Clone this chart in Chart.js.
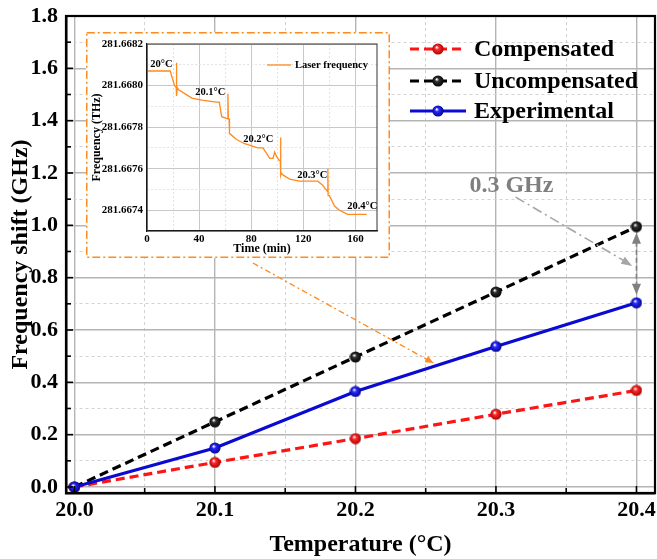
<!DOCTYPE html>
<html>
<head>
<meta charset="utf-8">
<script src="https://cdn.jsdelivr.net/npm/chart.js@4.4.1/dist/chart.umd.min.js"></script>
<style>
  html, body { margin: 0; padding: 0; background: #fff; }
  #wrap { position: relative; width: 657px; height: 559px; }
  #main { position: absolute; left: 0; top: 0; }
  #insetBox { position: absolute; left: 86px; top: 32px; width: 304px; height: 226px; }
</style>
</head>
<body>
<div id="wrap">
  <canvas id="main" width="657" height="559"></canvas>
  <div id="insetBox"><canvas id="inset" width="304" height="226"></canvas></div>
</div>
<script>
// main chart: frequency shift vs temperature
const temps = [20.0, 20.1, 20.2, 20.3, 20.4];
const compensated = [0, 0.094, 0.185, 0.278, 0.369];
const uncompensated = [0, 0.249, 0.497, 0.745, 0.995];
const experimental = [0, 0.149, 0.365, 0.537, 0.704];

const xMajor = [20.0, 20.1, 20.2, 20.3, 20.4];
const xMajorLabels = ['20.0', '20.1', '20.2', '20.3', '20.4'];
const xMinor = [20.05, 20.15, 20.25, 20.35];
const yMajor = [0, 0.2, 0.4, 0.6, 0.8, 1.0, 1.2, 1.4, 1.6, 1.8];
const yMajorLabels = ['0.0', '0.2', '0.4', '0.6', '0.8', '1.0', '1.2', '1.4', '1.6', '1.8'];
const yMinor = [0.1, 0.3, 0.5, 0.7, 0.9, 1.1, 1.3, 1.5, 1.7];

// inset: laser frequency over time
const laserTime = [0, 17.8, 21.1, 22.4, 22.6, 22.8, 23.2, 24.2, 29.3, 34.4, 42, 53.5, 55.5,
  57.3, 61.8, 62.1, 62.4, 63.0, 63.3, 68.7, 75, 85, 89, 94.2, 96.7, 98, 99.3, 101.4,
  102.3, 102.5, 102.7, 103.0, 104.3, 109.4, 117, 131, 134.8, 137.3, 138.6, 138.8, 139.0,
  140, 143.9, 147.7, 154, 160.4, 168.5];
const laserFreq = [281.66807, 281.66807, 281.66800, 281.66799, 281.66811, 281.66795, 281.66799,
  281.66798, 281.66796, 281.66794, 281.66793, 281.66792, 281.66792,
  281.66785, 281.66784, 281.66796, 281.66784, 281.66784, 281.66777, 281.66774, 281.66772,
  281.66770, 281.66770, 281.66765, 281.66765, 281.66768, 281.66766, 281.66764,
  281.66764, 281.66775, 281.66757, 281.66758, 281.66757, 281.66755, 281.66754, 281.66754,
  281.66752, 281.66750, 281.66749, 281.66760, 281.66747,
  281.66747, 281.66742, 281.66740, 281.66738, 281.66738, 281.66738];

const insetXMajor = [0, 40, 80, 120, 160];
const insetXMinor = [20, 60, 100, 140];
const insetYMajor = [281.6674, 281.6676, 281.6678, 281.6680, 281.6682];
const insetYMajorLabels = ['281.6674', '281.6676', '281.6678', '281.6680', '281.6682'];
const insetYMinor = [281.6675, 281.6677, 281.6679, 281.6681];

const tempLabels = ['20°C', '20.1°C', '20.2°C', '20.3°C', '20.4°C'];

const SERIF = "'Liberation Serif', 'Times New Roman', serif";
const ORANGE = '#ff8a1e';

const isIn = (arr, v) => arr.some(a => Math.abs(a - v) < 1e-7);

// shaded ball used as the point marker
function ball(color, edge) {
  const c = document.createElement('canvas');
  c.width = c.height = 12;
  const g = c.getContext('2d');
  const grad = g.createRadialGradient(4.6, 4.2, 0.3, 6, 6, 6);
  grad.addColorStop(0, '#ffffff');
  grad.addColorStop(0.3, color);
  grad.addColorStop(1, edge);
  g.fillStyle = grad;
  g.beginPath();
  g.arc(6, 6, 5.6, 0, Math.PI * 2);
  g.fill();
  return c;
}

function arrowHead(ctx, x1, y1, x2, y2, len, wid, color) {
  const a = Math.atan2(y2 - y1, x2 - x1);
  ctx.save();
  ctx.setLineDash([]);
  ctx.fillStyle = color;
  ctx.beginPath();
  ctx.moveTo(x2, y2);
  ctx.lineTo(x2 - len * Math.cos(a) + wid * Math.sin(a), y2 - len * Math.sin(a) - wid * Math.cos(a));
  ctx.lineTo(x2 - len * Math.cos(a) - wid * Math.sin(a), y2 - len * Math.sin(a) + wid * Math.cos(a));
  ctx.closePath();
  ctx.fill();
  ctx.restore();
}

function line(ctx, x1, y1, x2, y2, color, width, dash) {
  ctx.save();
  ctx.strokeStyle = color;
  ctx.lineWidth = width;
  ctx.setLineDash(dash);
  ctx.beginPath();
  ctx.moveTo(x1, y1);
  ctx.lineTo(x2, y2);
  ctx.stroke();
  ctx.restore();
}

// keep the plot area fixed: labels may hang past the axes
function noOverhang(s) {
  s.paddingLeft = 0; s.paddingRight = 0; s.paddingTop = 0; s.paddingBottom = 0;
}

const series = [
  { label: 'Compensated', values: compensated, color: '#ff1414', dash: [9, 5], img: ball('#ff2a2a', '#a00000'), order: 1 },
  { label: 'Uncompensated', values: uncompensated, color: '#000000', dash: [9, 5], img: ball('#303030', '#000000'), order: 2 },
  { label: 'Experimental', values: experimental, color: '#0a0ad2', dash: [], img: ball('#2a2aff', '#00008a'), order: 0 }
];

const mainDecor = {
  id: 'mainDecor',
  afterDraw(chart) {
    const { ctx, chartArea: ca, scales: { x, y } } = chart;
    ctx.save();
    // frame
    ctx.strokeStyle = '#000';
    ctx.lineWidth = 2.2;
    ctx.strokeRect(ca.left, ca.top, ca.right - ca.left, ca.bottom - ca.top);
    // inward ticks
    x.ticks.forEach(t => {
      const px = x.getPixelForValue(t.value);
      const l = isIn(xMajor, t.value) ? 7 : 5;
      line(ctx, px, ca.bottom, px, ca.bottom - l, '#000', 1.6, []);
    });
    y.ticks.forEach(t => {
      const py = y.getPixelForValue(t.value);
      const l = isIn(yMajor, t.value) ? 7 : 5;
      line(ctx, ca.left, py, ca.left + l, py, '#000', 1.6, []);
    });

    // gap annotation
    ctx.font = 'bold 24px ' + SERIF;
    ctx.fillStyle = '#7f7f7f';
    ctx.textAlign = 'center';
    ctx.textBaseline = 'middle';
    ctx.fillText('0.3 GHz', x.getPixelForValue(20.311), y.getPixelForValue(1.15));

    let x1 = x.getPixelForValue(20.314), y1 = y.getPixelForValue(1.108);
    let x2 = x.getPixelForValue(20.397), y2 = y.getPixelForValue(0.845);
    line(ctx, x1, y1, x2 - 8, y2 - 5, '#a6a6a6', 1.6, [10, 4, 2, 4]);
    arrowHead(ctx, x1, y1, x2, y2, 11, 4, '#a6a6a6');

    const gx = x.getPixelForValue(20.4);
    const gTop = y.getPixelForValue(0.972), gBot = y.getPixelForValue(0.735);
    line(ctx, gx, gTop + 9, gx, gBot - 9, '#808080', 1.6, [5, 3]);
    arrowHead(ctx, gx, gBot, gx, gTop, 11, 4.5, '#808080');
    arrowHead(ctx, gx, gTop, gx, gBot, 11, 4.5, '#808080');

    // pointer from the inset to the experimental curve
    x1 = x.getPixelForValue(20.127); y1 = y.getPixelForValue(0.856);
    x2 = x.getPixelForValue(20.2555); y2 = y.getPixelForValue(0.474);
    line(ctx, x1, y1, x2, y2, ORANGE, 1.3, [6, 3, 2, 3]);
    arrowHead(ctx, x1, y1, x2, y2, 8, 3.5, ORANGE);

    // legend
    const rows = [49, 81, 111];
    series.forEach((s, i) => {
      const ry = rows[i];
      line(ctx, 410, ry, 466, ry, s.color, 3, s.dash);
      ctx.drawImage(s.img, 438 - 6, ry - 6);
      ctx.font = 'bold 24px ' + SERIF;
      ctx.fillStyle = '#000';
      ctx.textAlign = 'left';
      ctx.textBaseline = 'middle';
      ctx.fillText(s.label, 474, ry + 1);
    });
    ctx.restore();
  }
};

new Chart(document.getElementById('main'), {
  type: 'line',
  data: {
    datasets: series.map(s => ({
      label: s.label,
      data: temps.map((t, i) => ({ x: t, y: s.values[i] })),
      borderColor: s.color,
      borderWidth: 3.2,
      borderDash: s.dash,
      pointStyle: s.img,
      pointRadius: 6,
      tension: 0,
      fill: false,
      order: s.order
    }))
  },
  options: {
    responsive: false,
    animation: false,
    layout: { autoPadding: false, padding: { top: 16, right: 2, left: 0, bottom: 0 } },
    plugins: { legend: { display: false }, tooltip: { enabled: false } },
    scales: {
      x: {
        type: 'linear',
        min: 19.994,
        max: 20.4132,
        afterBuildTicks: s => { s.ticks = xMajor.concat(xMinor).sort((a, b) => a - b).map(v => ({ value: v })); },
        afterFit: s => { s.height = 66; noOverhang(s); },
        ticks: {
          autoSkip: false, maxRotation: 0, padding: 4, color: '#000',
          font: { family: SERIF, size: 22, weight: 'bold' },
          callback: v => { const i = xMajor.findIndex(a => Math.abs(a - v) < 1e-7); return i < 0 ? '' : xMajorLabels[i]; }
        },
        grid: {
          drawTicks: false, tickLength: 0,
          color: c => (c.tick && isIn(xMinor, c.tick.value)) ? '#d2d2d2' : '#b4b4b4',
          lineWidth: c => (c.tick && isIn(xMinor, c.tick.value)) ? 1 : 1.4
        },
        border: { color: '#000', width: 2.5, dash: c => (c.tick && isIn(xMinor, c.tick.value)) ? [3, 3] : [] },
        title: { display: true, text: 'Temperature (°C)', color: '#000', font: { family: SERIF, size: 24, weight: 'bold' }, padding: { top: 0, bottom: 0 } }
      },
      y: {
        min: -0.023,
        max: 1.8,
        afterBuildTicks: s => { s.ticks = yMajor.concat(yMinor).sort((a, b) => a - b).map(v => ({ value: v })); },
        afterFit: s => { s.width = 66; noOverhang(s); },
        ticks: {
          autoSkip: false, padding: 8, color: '#000',
          font: { family: SERIF, size: 22, weight: 'bold' },
          callback: v => { const i = yMajor.findIndex(a => Math.abs(a - v) < 1e-7); return i < 0 ? '' : yMajorLabels[i]; }
        },
        grid: {
          drawTicks: false, tickLength: 0,
          color: c => (c.tick && isIn(yMinor, c.tick.value)) ? '#d2d2d2' : '#b4b4b4',
          lineWidth: c => (c.tick && isIn(yMinor, c.tick.value)) ? 1 : 1.4
        },
        border: { color: '#000', width: 2.5, dash: c => (c.tick && isIn(yMinor, c.tick.value)) ? [3, 3] : [] },
        title: { display: true, text: 'Frequency shift (GHz)', color: '#000', font: { family: SERIF, size: 24, weight: 'bold' }, padding: { top: 6, bottom: 0 } }
      }
    }
  },
  plugins: [mainDecor]
});

// inset chart
const insetDecor = {
  id: 'insetDecor',
  beforeDraw(chart) {
    const { ctx, width, height } = chart;
    ctx.save();
    ctx.fillStyle = '#fff';
    ctx.fillRect(0, 0, width, height);
    ctx.restore();
  },
  afterDraw(chart) {
    const { ctx, width, height, chartArea: ca, scales: { x, y } } = chart;
    ctx.save();
    ctx.strokeStyle = '#333';
    ctx.lineWidth = 1;
    ctx.strokeRect(ca.left, ca.top, ca.right - ca.left, ca.bottom - ca.top);

    ctx.font = 'bold 10.5px ' + SERIF;
    ctx.fillStyle = '#000';
    ctx.textAlign = 'left';
    ctx.textBaseline = 'middle';
    const lt = [2.5, 37, 73.8, 115.3, 153.6];
    const lf = [281.66810, 281.66797, 281.66774, 281.66757, 281.66742];
    tempLabels.forEach((s, i) => ctx.fillText(s, x.getPixelForValue(lt[i]), y.getPixelForValue(lf[i])));

    line(ctx, 181, 33, 205, 33, ORANGE, 1.3, []);
    ctx.fillText('Laser frequency', 209, 33);

    ctx.strokeStyle = ORANGE;
    ctx.lineWidth = 1.5;
    ctx.setLineDash([8, 3, 2, 3]);
    ctx.strokeRect(0.75, 0.75, width - 1.5, height - 1.5);
    ctx.restore();
  }
};

new Chart(document.getElementById('inset'), {
  type: 'line',
  data: {
    datasets: [{
      label: 'Laser frequency',
      data: laserTime.map((t, i) => ({ x: t, y: laserFreq[i] })),
      borderColor: ORANGE,
      borderWidth: 1.3,
      pointRadius: 0,
      tension: 0,
      fill: false
    }]
  },
  options: {
    responsive: false,
    animation: false,
    layout: { autoPadding: false, padding: { top: 12, right: 13, left: 0, bottom: 0 } },
    plugins: { legend: { display: false }, tooltip: { enabled: false } },
    scales: {
      x: {
        type: 'linear',
        min: 0,
        max: 176.5,
        afterBuildTicks: s => { s.ticks = insetXMajor.concat(insetXMinor).sort((a, b) => a - b).map(v => ({ value: v })); },
        afterFit: s => { s.height = 27; noOverhang(s); },
        ticks: {
          autoSkip: false, maxRotation: 0, padding: 2, color: '#000',
          font: { family: SERIF, size: 11, weight: 'bold' },
          callback: v => isIn(insetXMajor, v) ? String(v) : ''
        },
        grid: {
          drawTicks: false, tickLength: 0,
          color: c => (c.tick && isIn(insetXMinor, c.tick.value)) ? '#e2e2e2' : '#c8c8c8'
        },
        border: { color: '#000', width: 1.2, dash: c => (c.tick && isIn(insetXMinor, c.tick.value)) ? [2, 2] : [] },
        title: { display: true, text: 'Time (min)', color: '#000', font: { family: SERIF, size: 12, weight: 'bold' }, padding: { top: 0, bottom: 2 } }
      },
      y: {
        min: 281.66730,
        max: 281.66820,
        afterBuildTicks: s => { s.ticks = insetYMajor.concat(insetYMinor).sort((a, b) => a - b).map(v => ({ value: v })); },
        afterFit: s => { s.width = 61; noOverhang(s); },
        ticks: {
          autoSkip: false, padding: 4, color: '#000',
          font: { family: SERIF, size: 11, weight: 'bold' },
          callback: v => { const i = insetYMajor.findIndex(a => Math.abs(a - v) < 1e-8); return i < 0 ? '' : insetYMajorLabels[i]; }
        },
        grid: {
          drawTicks: false, tickLength: 0,
          color: c => (c.tick && isIn(insetYMinor, c.tick.value)) ? '#e2e2e2' : '#c8c8c8'
        },
        border: { color: '#000', width: 1.2, dash: c => (c.tick && isIn(insetYMinor, c.tick.value)) ? [2, 2] : [] },
        title: { display: true, text: 'Frequency (THz)', color: '#000', font: { family: SERIF, size: 12, weight: 'bold' }, padding: { top: 4, bottom: 0 } }
      }
    }
  },
  plugins: [insetDecor]
});
</script>
</body>
</html>
